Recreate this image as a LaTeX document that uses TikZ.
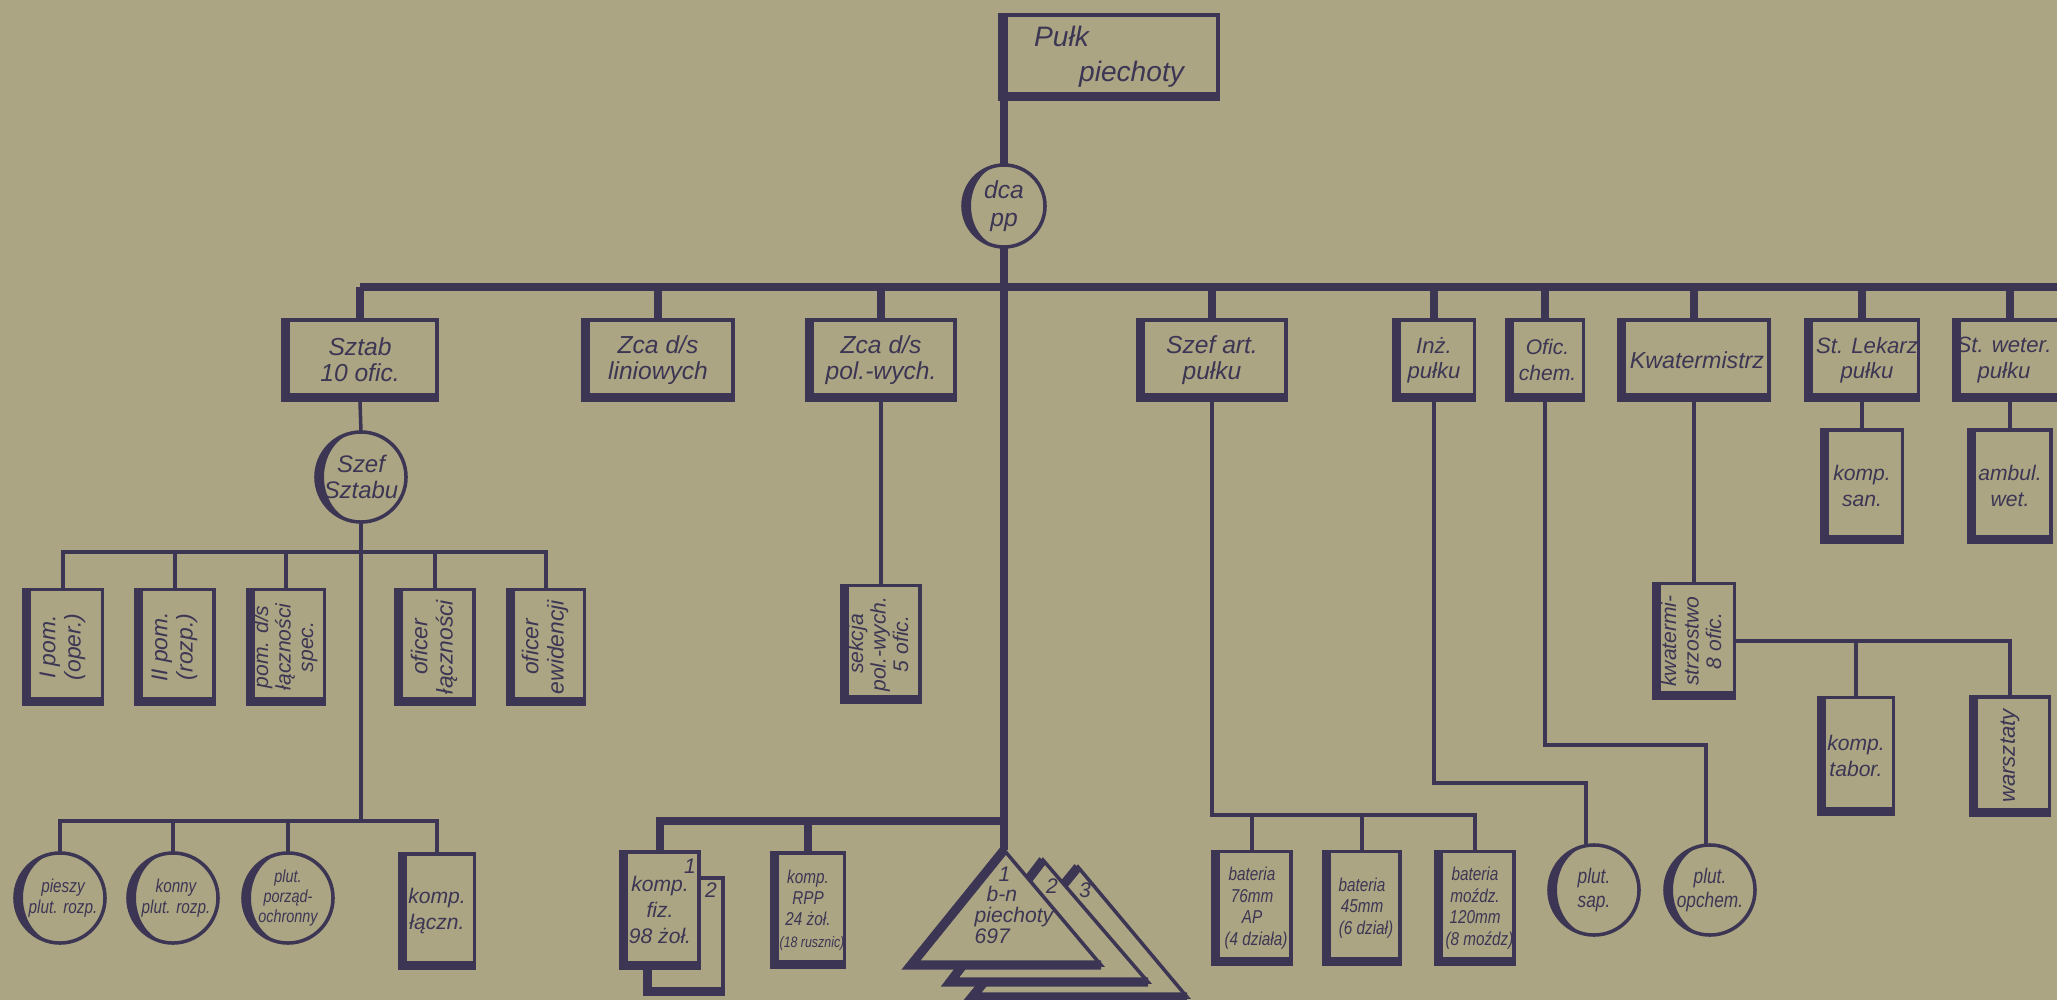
\documentclass[tikz,border=0pt]{standalone}
\usepackage{fontspec}
\setmainfont{Liberation Sans}
\newfontfamily\condensed{Liberation Sans}[FakeStretch=0.82]
\usepackage{tikz}
\definecolor{paper}{RGB}{171,165,131}
\definecolor{ink}{RGB}{60,54,84}
\newcommand{\vlbl}[1]{\rotatebox{90}{\begin{tabular}{@{}c@{}}#1\end{tabular}}}
\tikzset{
	orgbox/.style 2 args={draw=ink, line width=1pt, fill=paper, rectangle, inner sep=0pt, minimum width=#1cm, minimum height=#2cm, align=center, text=ink, font=\itshape\fontsize{7}{7.4}\selectfont},
	orgcirc/.style={draw=ink, line width=1pt, fill=paper, circle, inner sep=0pt, outer sep=0pt, minimum size=#1cm, align=center, text=ink, font=\condensed\itshape\fontsize{5.3}{6}\selectfont},
	link/.style={draw=ink, line width=1pt},
	bar/.style={draw=ink, line width=2.4pt},
	heavy/.style={draw=ink, line width=2.6pt},
	smalltxt/.style={font=\condensed\itshape\fontsize{5.3}{6.1}\selectfont},
	vtxt/.style={font=\itshape\fontsize{6}{6.4}\selectfont},
	lowtxt/.style={font=\itshape\fontsize{6}{7.4}\selectfont},
	toptxt/.style={font=\itshape\fontsize{6.3}{7.2}\selectfont},
	numtxt/.style={text=ink, inner sep=0pt, font=\itshape\fontsize{6}{7}\selectfont},
}
\begin{document}
\begin{tikzpicture}[x=0.01cm, y=0.01cm]
				\useasboundingbox (0,0) rectangle (2057,-1000);
				\fill[paper] (0,0) rectangle (2057,-1000);
				% regiment and commander
				\node[orgbox={2.18}{0.84}, font=\itshape\fontsize{8}{10}\selectfont, align=left] (pulk)at(1109, -57) {Pułk\\\hspace{4.5mm}piechoty};
				\node[orgcirc=0.82, font=\itshape\fontsize{7}{8}\selectfont] (dca)at(1004, -206) {dca\\pp};
				% first row
				\node[orgbox={1.54}{0.8}] (sztab)at(360, -360) {Sztab\\10 ofic.};
				\node[orgbox={1.50}{0.8}] (zcalin)at(658, -360) {Zca d/s\\liniowych};
				\node[orgbox={1.48}{0.8}] (zcapol)at(881, -360) {Zca d/s\\pol.-wych.};
				\node[orgbox={1.48}{0.8}] (szefart)at(1212, -360) {Szef art.\\pułku};
				\node[orgbox={0.81}{0.8}, toptxt] (inz)at(1434, -360) {Inż.\\pułku};
				\node[orgbox={0.77}{0.8}, font=\itshape\fontsize{6}{7.2}\selectfont] (ofchem)at(1545, -360) {\hspace*{0.5mm}Ofic.\\\hspace*{0.5mm}chem.};
				\node[orgbox={1.50}{0.8}, font=\itshape\fontsize{6.6}{7.4}\selectfont] (kwater)at(1694, -360) {\hspace*{0.6mm}Kwatermistrz};
				\node[orgbox={1.13}{0.8}, toptxt] (lekarz)at(1862, -360) {\hspace*{1mm}St. Lekarz\\\hspace*{1mm}pułku};
				\node[orgbox={1.13}{0.8}, toptxt] (weter)at(2010, -360) {St. weter.\hspace*{1.2mm}\\pułku\hspace*{1.2mm}};
				% staff
				\node[orgcirc=0.90, font=\itshape\fontsize{6.8}{7.5}\selectfont] (szefsz)at(361, -477) {Szef\\Sztabu};
				\node[orgbox={0.79}{1.15}, font=\itshape\fontsize{6.5}{7.2}\selectfont] (ipom)at(63, -647) {\vlbl{I pom.\\(oper.)}};
				\node[orgbox={0.78}{1.15}, font=\itshape\fontsize{6.5}{7.2}\selectfont] (iipom)at(175, -647) {\vlbl{II pom.\\(rozp.)}};
				\node[orgbox={0.77}{1.15}, vtxt] (pomds)at(286, -647) {\vlbl{pom. d/s\\łączności\\spec.}};
				\node[orgbox={0.78}{1.15}, font=\itshape\fontsize{6.5}{7.2}\selectfont] (oflacz)at(435, -647) {\vlbl{oficer\\łączności}};
				\node[orgbox={0.77}{1.15}, font=\itshape\fontsize{6.5}{7.2}\selectfont] (ofewid)at(546, -647) {\vlbl{oficer\\ewidencji}};
				\node[orgcirc=0.90] (piesi)at(60, -898) {\hspace*{0.6mm}pieszy\\\hspace*{0.6mm}plut. rozp.};
				\node[orgcirc=0.90] (konny)at(173, -898) {\hspace*{0.6mm}konny\\\hspace*{0.6mm}plut. rozp.};
				\node[orgcirc=0.90, font=\condensed\itshape\fontsize{5}{5.6}\selectfont] (porz)at(288, -898) {plut.\\porząd-\\ochronny};
				\node[orgbox={0.75}{1.14}, lowtxt] (kompl)at(437, -911) {komp.\\łączn.};
				% political section
				\node[orgbox={0.78}{1.17}, vtxt] (sekcja)at(881, -644) {\vlbl{sekcja\\pol.-wych.\\5 ofic.}};
				% companies and battalions
				\node[orgbox={0.78}{1.16}] (kompfiz2)at(684, -936) {};
				\draw[heavy] ([xshift=1.3pt]kompfiz2.north west) -- ([xshift=1.3pt, yshift=1.3pt]kompfiz2.south west) -- ([yshift=1.3pt]kompfiz2.south east);
				\node[numtxt] (fiz2)at(711, -890) {2};
				\node[orgbox={0.78}{1.16}, lowtxt] (kompfiz)at(660, -910) {komp.\\fiz.\\98 żoł.};
				\node[numtxt] (fiz1)at(690, -866) {1};
				\node[orgbox={0.73}{1.14}, smalltxt] (rpp)at(808, -910) {komp.\\RPP\\24 żoł.\\\hspace*{0.8mm}{\fontsize{4.3}{6}\selectfont(18 rusznic)}};
				\filldraw[fill=paper, draw=ink, line width=1pt] (1078,-867) -- (1187,-997) -- (972,-997) -- cycle;
				\draw[heavy] (1078,-867) -- (972,-997) -- (1187,-997);
				\filldraw[fill=paper, draw=ink, line width=1pt] (1043,-860) -- (1148,-982) -- (950,-982) -- cycle;
				\draw[heavy] (1043,-860) -- (950,-982) -- (1148,-982);
				\filldraw[fill=paper, draw=ink, line width=1pt] (1004,-850) -- (1101,-965) -- (911,-965) -- cycle;
				\draw[heavy] (1004,-850) -- (911,-965) -- (1101,-965);
				\node[numtxt] (bn3)at(1085, -890) {3};
				\node[numtxt] (bn2)at(1052, -886) {2};
				\node[numtxt, align=left, font=\itshape\fontsize{6}{5.9}\selectfont] (bn)at(1014, -905) {\hspace{2.4mm}1\\\hspace{1.2mm}b-n\\piechoty\\697};
				% artillery
				\node[orgbox={0.78}{1.13}, smalltxt] (bat76)at(1252, -908) {bateria\\76mm\\AP\\\hspace*{0.8mm}(4 działa)};
				\node[orgbox={0.76}{1.13}, smalltxt] (bat45)at(1362, -908) {bateria\\45mm\\\hspace*{0.8mm}(6 dział)};
				\node[orgbox={0.78}{1.13}, smalltxt] (batmoz)at(1475, -908) {bateria\\moźdz.\\120mm\\\hspace*{0.9mm}(8 moźdz)};
				\node[orgcirc=0.90, font=\condensed\itshape\fontsize{6}{7}\selectfont] (plutsap)at(1594, -890) {plut.\\sap.};
				\node[orgcirc=0.90, font=\condensed\itshape\fontsize{6}{7}\selectfont] (plutop)at(1710, -890) {plut.\\opchem.};
				% services
				\node[orgbox={0.81}{1.15}, vtxt] (kwstr)at(1694, -641) {\vlbl{kwatermi-\\strzostwo\\8 ofic.}};
				\node[orgbox={0.75}{1.17}, lowtxt] (tabor)at(1856, -756) {komp.\\tabor.};
				\node[orgbox={0.79}{1.18}, font=\itshape\fontsize{6.3}{7}\selectfont] (warszt)at(2010, -756) {\vlbl{warsztaty}};
				\node[orgbox={0.81}{1.12}, lowtxt] (kompsan)at(1862, -486) {komp.\\san.};
				\node[orgbox={0.82}{1.12}, lowtxt] (ambul)at(2010, -486) {ambul.\\wet.};
				% shadows
				\foreach \n in {pulk, sztab, zcalin, zcapol, szefart, inz, ofchem, kwater, lekarz, weter, ipom, iipom, pomds, oflacz, ofewid, kompl, sekcja, kompfiz, rpp, bat76, bat45, batmoz, kwstr, tabor, warszt, kompsan, ambul}
					\draw[heavy] ([xshift=1.3pt]\n.north west) -- ([xshift=1.3pt, yshift=1.3pt]\n.south west) -- ([yshift=1.3pt]\n.south east);
				\foreach \n/\r in {dca/41, szefsz/45, piesi/45, konny/45, porz/45, plutsap/45, plutop/45}
					\fill[ink] (\n.north) arc[start angle=90, end angle=270, radius=\r] arc[start angle=270, end angle=90, x radius=\r-8, y radius=\r];
				% main lines
				\coordinate (busL) at (360, -287);
				\coordinate (busR) at (2060, -287);
				\coordinate (bnapex) at (1004, -850);
				\coordinate (fizbus) at (1004, -821);
				\draw[bar] (dca.north |- pulk.north) -- (dca.north);
				\draw[bar] (dca.south) -- (bnapex);
				\draw[bar] (busL) -- (busR);
				\foreach \n in {sztab, zcalin, zcapol, szefart, inz, ofchem, kwater, lekarz, weter}
					\draw[bar] (\n.north) -- (\n.north |- busL);
				\draw[bar] (fizbus) -| (kompfiz.north);
				\draw[bar] (rpp.north) -- (rpp.north |- fizbus);
				% staff lines
				\coordinate (stbus) at (361, -552);
				\coordinate (plbus) at (361, -821);
				\draw[link] (sztab.south) -- (szefsz.north);
				\draw[link] (szefsz.south) -- (plbus);
				\draw[link] (ipom.north) |- (stbus) -| (ofewid.north);
				\foreach \n in {iipom, pomds, oflacz}
					\draw[link] (\n.north) -- (\n.north |- stbus);
				\draw[link] (piesi.north) |- (plbus) -| (kompl.north);
				\foreach \n in {konny, porz}
					\draw[link] (\n.north) -- (\n.north |- plbus);
				\draw[link] (zcapol.south) -- (sekcja.north);
				% artillery and engineers
				\coordinate (artbus) at (1212, -815);
				\coordinate (inzbend) at (1434, -783);
				\coordinate (chembend) at (1545, -745);
				\draw[link] (szefart.south) -- (artbus) -| (batmoz.north);
				\draw[link] (bat76.north) -- (bat76.north |- artbus);
				\draw[link] (bat45.north) -- (bat45.north |- artbus);
				\draw[link] (inz.south) -- (inzbend) -| (plutsap.100);
				\draw[link] (ofchem.south) -- (chembend) -| (plutop.95);
				% services lines
				\draw[link] (kwater.south) -- (kwstr.north);
				\draw[link] (kwstr.east) -| (warszt.north);
				\draw[link] (tabor.north) -- (tabor.north |- kwstr.east);
				\draw[link] (lekarz.south) -- (kompsan.north);
				\draw[link] (weter.south) -- (ambul.north);
			\end{tikzpicture}
\end{document}
